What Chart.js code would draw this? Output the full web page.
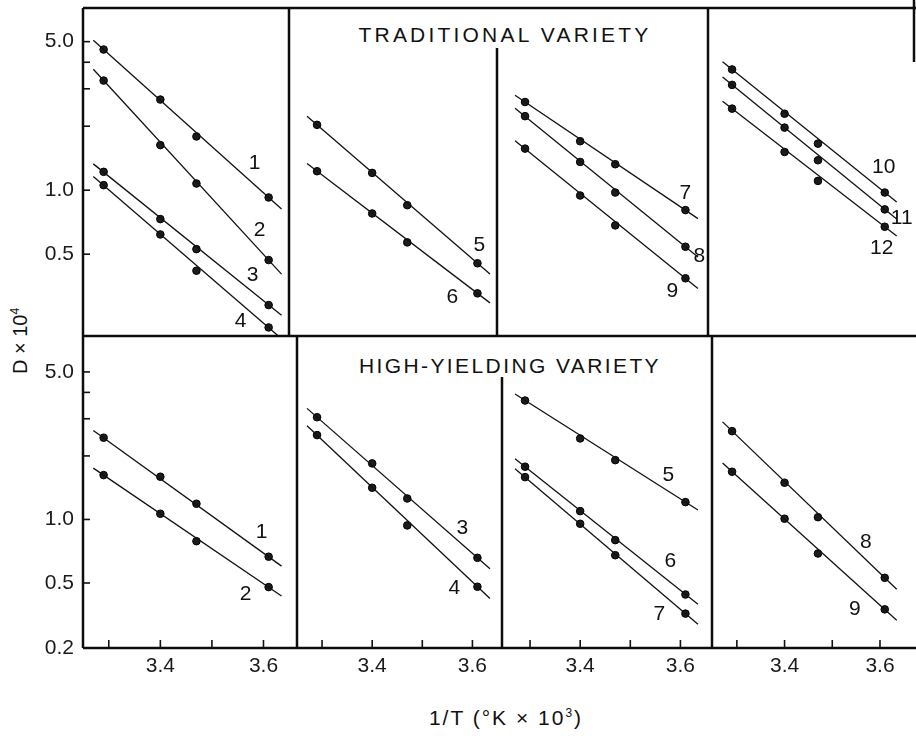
<!DOCTYPE html>
<html>
<head>
<meta charset="utf-8">
<script src="https://cdn.jsdelivr.net/npm/chart.js@4.4.0/dist/chart.umd.min.js"></script>
<style>
  html, body { margin: 0; padding: 0; background: #fff; }
  #fig { position: relative; width: 916px; height: 738px; overflow: hidden;
         font-family: "Liberation Sans", Arial, sans-serif; color: #111; }
  #fig canvas { position: absolute; left: 0; top: 0; }
  .txt { position: absolute; white-space: nowrap; line-height: 21px; }
  #titleTrad { left: 505px; top: 24px; font-size: 21px; letter-spacing: 3.2px; transform: translateX(-50%); }
  #titleHyv { left: 510px; top: 355px; font-size: 21px; letter-spacing: 2.4px; transform: translateX(-50%); }
  #yTitle { left: 20px; top: 341px; font-size: 20px; transform: translate(-50%, -50%) rotate(-90deg); }
  #xTitle { left: 506px; top: 707px; font-size: 21px; letter-spacing: 2px; transform: translateX(-50%); }
  sup { font-size: 12px; line-height: 0; }
</style>
</head>
<body>
<div id="fig">
  <div class="txt" id="titleTrad">TRADITIONAL VARIETY</div>
  <div class="txt" id="titleHyv">HIGH-YIELDING VARIETY</div>
  <div class="txt" id="yTitle">D × 10<sup>4</sup></div>
  <div class="txt" id="xTitle">1/T (°K × 10<sup>3</sup>)</div>
</div>
<script>
// 1/T values of the measured points and the ends of the fitted lines
var invT = [3.29, 3.40, 3.47, 3.61];
var fitEnds = [3.27, 3.635];

// axis ranges and ticks
var xRange = [3.25, 3.665];
var xTickLabels = [3.4, 3.6];
var xTickMarks = [3.3, 3.4, 3.5, 3.6];
var yRangeTop = [0.206, 7.2];
var yRangeBottom = [0.246, 7.4];
var yTickLabels = [0.5, 1.0, 5.0];
var yTickMarks = [0.5, 1, 2, 3, 4, 5];
var bottomEndLabel = '0.2';

// traditional variety, D x 10^4 at invT
var trad1 = [4.59, 2.67, 1.79, 0.924];
var trad2 = [3.28, 1.63, 1.075, 0.469];
var trad3 = [1.22, 0.731, 0.528, 0.288];
var trad4 = [1.056, 0.619, 0.418, 0.226];
var trad5 = [2.03, 1.206, 0.850, 0.453];
var trad6 = [1.228, 0.777, 0.568, 0.327];
var trad7 = [2.60, 1.70, 1.325, 0.806];
var trad8 = [2.23, 1.358, 0.975, 0.542];
var trad9 = [1.569, 0.944, 0.683, 0.385];
var trad10 = [3.70, 2.29, 1.656, 0.975];
var trad11 = [3.13, 1.97, 1.383, 0.812];
var trad12 = [2.42, 1.513, 1.106, 0.673];

// fitted lines (values at fitEnds)
var tradFit1 = [5.08, 0.815];
var tradFit2 = [3.71, 0.403];
var tradFit3 = [1.33, 0.258];
var tradFit4 = [1.16, 0.200];
var tradFit5 = [2.23, 0.403];
var tradFit6 = [1.334, 0.295];
var tradFit7 = [2.80, 0.735];
var tradFit8 = [2.43, 0.485];
var tradFit9 = [1.71, 0.345];
var tradFit10 = [4.02, 0.879];
var tradFit11 = [3.41, 0.731];
var tradFit12 = [2.62, 0.609];

// high-yielding variety
var hyv1 = [2.44, 1.594, 1.187, 0.666];
var hyv2 = [1.622, 1.064, 0.789, 0.478];
var hyv3 = [3.05, 1.843, 1.257, 0.658];
var hyv4 = [2.51, 1.413, 0.937, 0.480];
var hyv5 = [3.66, 2.42, 1.91, 1.208];
var hyv6 = [1.778, 1.095, 0.798, 0.441];
var hyv7 = [1.587, 0.954, 0.677, 0.358];
var hyv8 = [2.62, 1.493, 1.025, 0.529];
var hyv9 = [1.683, 1.008, 0.690, 0.375];

var hyvFit1 = [2.64, 0.601];
var hyvFit2 = [1.75, 0.434];
var hyvFit3 = [3.36, 0.584];
var hyvFit4 = [2.78, 0.422];
var hyvFit5 = [3.93, 1.108];
var hyvFit6 = [1.94, 0.396];
var hyvFit7 = [1.74, 0.319];
var hyvFit8 = [2.90, 0.467];
var hyvFit9 = [1.85, 0.333];

// which curves go into which panel
var tradPanels = [
  [['1', trad1, tradFit1], ['2', trad2, tradFit2], ['3', trad3, tradFit3], ['4', trad4, tradFit4]],
  [['5', trad5, tradFit5], ['6', trad6, tradFit6]],
  [['7', trad7, tradFit7], ['8', trad8, tradFit8], ['9', trad9, tradFit9]],
  [['10', trad10, tradFit10], ['11', trad11, tradFit11], ['12', trad12, tradFit12]]
];
var hyvPanels = [
  [['1', hyv1, hyvFit1], ['2', hyv2, hyvFit2]],
  [['3', hyv3, hyvFit3], ['4', hyv4, hyvFit4]],
  [['5', hyv5, hyvFit5], ['6', hyv6, hyvFit6], ['7', hyv7, hyvFit7]],
  [['8', hyv8, hyvFit8], ['9', hyv9, hyvFit9]]
];

// layout (pixels)
var colEdges = [83, 297, 505, 713, 916];
var rowEdges = [8, 336, 648];
var Y_AXIS_W = 40, X_AXIS_H = 30;
// curve number offsets from the last point
var labelOffsets = [
  { '1': [-14, -34], '2': [-9, -30], '3': [-16, -30], '4': [-28, -6], '5': [2, -18], '6': [-25, 4],
    '7': [0, -17], '8': [14, 9], '9': [-13, 13], '10': [-1, -25], '11': [17, 9], '12': [-3, 21] },
  { '1': [-7, -25], '2': [-23, 7], '3': [-15, -30], '4': [-23, 1], '5': [-17, -27], '6': [-15, -33],
    '7': [-26, 1], '8': [-19, -36], '9': [-30, 0] }
];
var frameLines = [
  [83, 8, 916, 8], [83, 336, 916, 336], [83, 648, 916, 648], [83, 8, 83, 648],
  [289, 8, 289, 336], [497, 48, 497, 336], [708, 8, 708, 336],
  [297, 336, 297, 648], [502, 377, 502, 648], [712, 336, 712, 648],
  [914, 0, 914, 62]
];

var FONT = '"Liberation Sans", Arial, sans-serif';
Chart.defaults.font.family = FONT;
Chart.defaults.color = '#1a1a1a';

var innerTicks = {
  id: 'innerTicks',
  afterDatasetsDraw: function (chart, args, opts) {
    var ctx = chart.ctx, a = chart.chartArea;
    ctx.save();
    ctx.strokeStyle = '#111';
    ctx.lineWidth = 1.6;
    if (opts.left) {
      yTickMarks.forEach(function (v) {
        var y = chart.scales.y.getPixelForValue(v);
        if (y < a.top || y > a.bottom) return;
        ctx.beginPath(); ctx.moveTo(a.left, y); ctx.lineTo(a.left + 7, y); ctx.stroke();
      });
    }
    if (opts.bottom) {
      xTickMarks.forEach(function (v) {
        var x = chart.scales.x.getPixelForValue(v);
        ctx.beginPath(); ctx.moveTo(x, a.bottom); ctx.lineTo(x, a.bottom - 8); ctx.stroke();
      });
    }
    ctx.restore();
  }
};

var curveNumbers = {
  id: 'curveNumbers',
  afterDatasetsDraw: function (chart) {
    var ctx = chart.ctx;
    ctx.save();
    ctx.font = '21px ' + FONT;
    ctx.fillStyle = '#111';
    ctx.textAlign = 'center';
    ctx.textBaseline = 'middle';
    chart.data.datasets.forEach(function (ds, i) {
      if (!ds.curveName) return;
      var pts = chart.getDatasetMeta(i).data;
      var last = pts[pts.length - 1];
      ctx.fillText(ds.curveName, last.x + ds.labelOffset[0], last.y + ds.labelOffset[1]);
    });
    ctx.restore();
  }
};

var panelFrames = {
  id: 'panelFrames',
  afterDraw: function (chart) {
    var ctx = chart.ctx;
    ctx.save();
    ctx.strokeStyle = '#0d0d0d';
    ctx.lineWidth = 2.5;
    frameLines.forEach(function (l) {
      ctx.beginPath(); ctx.moveTo(l[0], l[1]); ctx.lineTo(l[2], l[3]); ctx.stroke();
    });
    ctx.restore();
  }
};

var fig = document.getElementById('fig');

function makePanel(row, col, curves) {
  var canvas = document.createElement('canvas');
  canvas.width = 916;
  canvas.height = 738;
  fig.appendChild(canvas);

  var showY = col === 0, showX = row === 1;
  var yr = row === 0 ? yRangeTop : yRangeBottom;
  var offsets = labelOffsets[row];
  var datasets = [];
  curves.forEach(function (c) {
    datasets.push({
      data: fitEnds.map(function (x, i) { return { x: x, y: c[2][i] }; }),
      showLine: true, borderColor: '#111', borderWidth: 1.3, pointRadius: 0
    });
    datasets.push({
      data: invT.map(function (x, i) { return { x: x, y: c[1][i] }; }),
      curveName: c[0], labelOffset: offsets[c[0]],
      pointRadius: 3.8, pointBackgroundColor: '#1c1c1c', pointBorderColor: '#000', pointBorderWidth: 1
    });
  });

  new Chart(canvas, {
    type: 'scatter',
    data: { datasets: datasets },
    options: {
      responsive: false,
      animation: false,
      events: [],
      layout: {
        padding: {
          left: showY ? colEdges[col] - Y_AXIS_W : colEdges[col],
          right: 916 - colEdges[col + 1],
          top: rowEdges[row],
          bottom: showX ? 738 - rowEdges[row + 1] - X_AXIS_H : 738 - rowEdges[row + 1]
        }
      },
      plugins: {
        legend: { display: false },
        tooltip: { enabled: false },
        innerTicks: { left: showY, bottom: showX }
      },
      scales: {
        x: {
          type: 'linear', min: xRange[0], max: xRange[1], display: showX,
          grid: { display: false, drawTicks: false }, border: { display: false },
          afterBuildTicks: function (s) { s.ticks = xTickLabels.map(function (v) { return { value: v }; }); },
          afterFit: function (s) {
            s.height = showX ? X_AXIS_H : 0;
            s.paddingLeft = 0; s.paddingRight = 0;
          },
          ticks: { autoSkip: false, maxRotation: 0, padding: 6, font: { size: 21 },
                   callback: function (v) { return Number(v).toFixed(1); } }
        },
        y: {
          type: 'logarithmic', min: yr[0], max: yr[1], display: showY,
          grid: { display: false, drawTicks: false }, border: { display: false },
          afterBuildTicks: function (s) {
            var t = yTickLabels.map(function (v) { return { value: v }; });
            if (row === 1) t.unshift({ value: s.min });
            s.ticks = t;
          },
          afterFit: function (s) {
            s.width = showY ? Y_AXIS_W : 0;
            s.paddingTop = 0; s.paddingBottom = 0;
          },
          ticks: { autoSkip: false, padding: 9, font: { size: 21 },
                   callback: function (v) { return v === this.min ? bottomEndLabel : Number(v).toFixed(1); } }
        }
      }
    },
    plugins: row === 0 && col === 0 ? [panelFrames, innerTicks, curveNumbers] : [innerTicks, curveNumbers]
  });
}

tradPanels.forEach(function (curves, col) { makePanel(0, col, curves); });
hyvPanels.forEach(function (curves, col) { makePanel(1, col, curves); });
</script>
</body>
</html>
